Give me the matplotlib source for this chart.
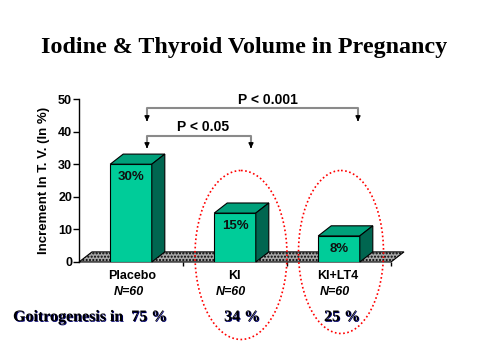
import matplotlib.pyplot as plt
from matplotlib.patches import Polygon, Ellipse
import matplotlib.patheffects as pe

plt.rcParams['font.family'] = ['Liberation Sans', 'DejaVu Sans']

# Data
groups = ['Placebo', 'KI', 'KI+LT4']
n_labels = ['N=60', 'N=60', 'N=60']
increment = [30, 15, 8]
bar_labels = ['30%', '15%', '8%']
goitro = ['75 %', '34 %', '25 %']

W, H = 480, 359
fig = plt.figure(figsize=(W / 100, H / 100), dpi=100)
fig.patch.set_facecolor('white')

# chart axes: x-axis 79..391 px, y 262 (0) .. 99 (50)
ax = fig.add_axes([79 / W, (H - 262) / H, 312 / W, 163 / H])
ax.set_xlim(0, 3)
ax.set_ylim(0, 50)
ax.patch.set_alpha(0)

front_c = '#00cc99'
top_c = '#00a07a'
side_c = '#006650'
dx, dy = 0.125, 3.1
bw = 0.4

# floor
floor = Polygon([(0, 0), (3, 0), (3 + dx, dy), (dx, dy)], closed=True,
                facecolor='#a8a8a8', edgecolor='black', lw=0.8, hatch='.....',
                clip_on=False, zorder=1)
ax.add_patch(floor)

xs = [i + 0.5 for i in range(len(groups))]
for x, v, lab in zip(xs, increment, bar_labels):
    l, r = x - bw / 2, x + bw / 2
    ax.bar(x, v, width=bw, color=front_c, edgecolor='black', lw=0.8, zorder=3)
    ax.add_patch(Polygon([(l, v), (r, v), (r + dx, v + dy), (l + dx, v + dy)],
                         facecolor=top_c, edgecolor='black', lw=0.8, zorder=3, clip_on=False))
    ax.add_patch(Polygon([(r, 0), (r + dx, dy), (r + dx, v + dy), (r, v)],
                         facecolor=side_c, edgecolor='black', lw=0.8, zorder=3, clip_on=False))
    ax.text(x, v - 4, lab, ha='center', va='center', fontsize=9.5, fontweight='bold',
            color='#101010', zorder=4)

for s in ['top', 'right']:
    ax.spines[s].set_visible(False)
ax.spines['bottom'].set_visible(False)
ax.spines['left'].set_linewidth(1)
ax.set_yticks([0, 10, 20, 30, 40, 50])
ax.tick_params(axis='y', length=4, width=1, labelsize=9, pad=1)
for t in ax.get_yticklabels():
    t.set_fontweight('bold')
ax.set_xticks([1, 2, 3])
ax.set_xticklabels([])
ax.tick_params(axis='x', length=3, width=1, direction='out')
ax.set_ylabel('Increment In T. V. (In %)', fontsize=9.5, fontweight='bold', labelpad=6)

# overlay in pixel coordinates
ov = fig.add_axes([0, 0, 1, 1], zorder=5)
ov.set_xlim(0, W)
ov.set_ylim(H, 0)
ov.axis('off')
ov.patch.set_alpha(0)

ov.text(244, 48, 'Iodine & Thyroid Volume in Pregnancy', ha='center', va='center',
        fontsize=17.3, fontweight='bold', family='Liberation Serif')

# brackets
def bracket(x1, x2, y, ytip, label, ylab, xlab):
    ov.plot([x1, x1, x2, x2], [ytip - 6, y, y, ytip - 6], color='#8a8a8a', lw=1.5)
    for xx in (x1, x2):
        ov.annotate('', xy=(xx, ytip), xytext=(xx, ytip - 7),
                    arrowprops=dict(arrowstyle='-|>', color='black', lw=1,
                                    mutation_scale=7))
    ov.text(xlab, ylab, label, ha='center', va='center', fontsize=10, fontweight='bold')

bracket(147, 358, 108, 124, 'P < 0.001', 100, 268)
bracket(147, 251, 136, 151, 'P < 0.05', 127, 203)

# category labels
cat_px = [131, 233, 337]
for cx, g, n in zip(cat_px, groups, n_labels):
    ov.text(cx + 1, 276, g, ha='center', va='center', fontsize=9, fontweight='bold')
    ov.text(cx - 2, 292, n, ha='center', va='center', fontsize=9, fontweight='bold',
            style='italic')

shadow = [pe.withSimplePatchShadow(offset=(0.6, -0.6), shadow_rgbFace='#000070', alpha=1)]
ov.text(13, 317, 'Goitrogenesis in  ' + goitro[0], ha='left', va='center', fontsize=11.5,
        fontweight='bold', family='Liberation Serif', path_effects=shadow)
for cx, g in zip([242, 342], goitro[1:]):
    ov.text(cx, 317, g, ha='center', va='center', fontsize=11.5, fontweight='bold',
            family='Liberation Serif', path_effects=shadow)

# red dotted ellipses
ov.add_patch(Ellipse((241, 255), 92, 169, fill=False, edgecolor='red', lw=1.2, ls=(0, (1, 1.5))))
ov.add_patch(Ellipse((341, 252), 85, 163, fill=False, edgecolor='red', lw=1.2, ls=(0, (1, 1.5))))

fig.savefig('out.png', dpi=100)
